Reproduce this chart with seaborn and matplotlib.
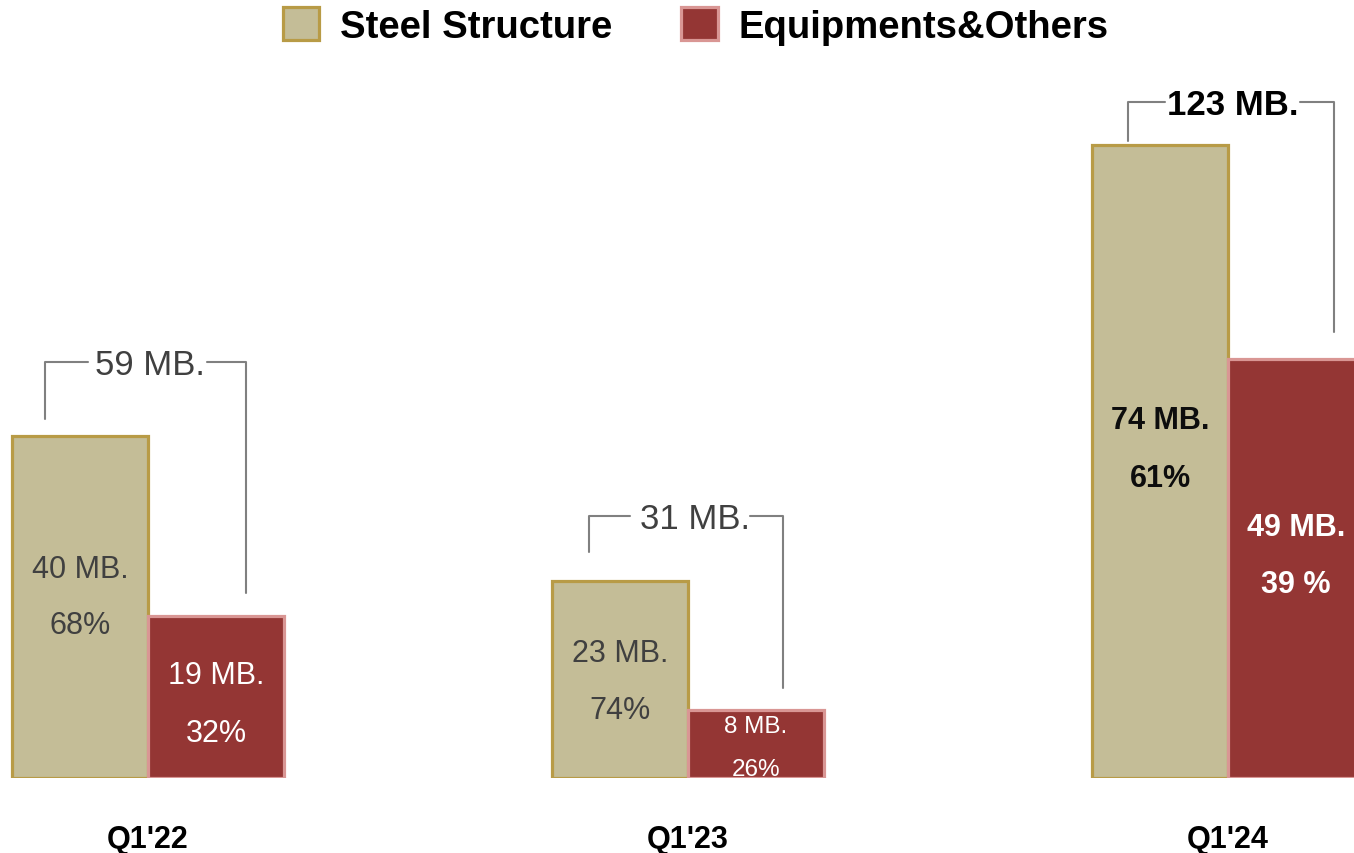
import pandas as pd
import seaborn as sns
import matplotlib.pyplot as plt
from matplotlib.patches import Patch

# chart data
quarters = ["Q1'22", "Q1'23", "Q1'24"]
steel = [40, 23, 74]
equip = [19, 8, 49]
totals = [59, 31, 123]
steel_pct = ['68%', '74%', '61%']
equip_pct = ['32%', '26%', '39 %']

# label placement (data units)
steel_lab_y = [(24.5, 17.9), (14.6, 7.9), (41.9, 35.1)]
equip_lab_y = [(12.0, 5.3), (6.1, 1.0), (29.4, 22.7)]
br_top = [48.7, 30.6, 79.1]
br_lbot = [42.0, 26.4, 74.5]
br_rbot = [21.6, 10.5, 52.2]
br_left = [-0.191, -0.183, -0.185]
br_right = [0.181, 0.176, 0.196]
gap_l = [-0.111, -0.107, -0.117]
gap_r = [0.109, 0.115, 0.133]
tot_x = [0.004, 0.013, 0.009]

steel_fill, steel_edge = '#c4bd97', '#b89b46'
equip_fill, equip_edge = '#943634', '#d99694'
line_col = '#808080'
dark = '#404040'

df = pd.DataFrame({
    'quarter': quarters * 2,
    'value': steel + equip,
    'segment': ['Steel Structure'] * 3 + ['Equipments&Others'] * 3,
})

sns.set_style('white')
plt.rcParams['font.family'] = ['Liberation Sans', 'DejaVu Sans']

fig = plt.figure(figsize=(13.54, 8.54), dpi=100)
ax = fig.add_axes([0, 75 / 854, 1, 779 / 854])

sns.barplot(data=df, x='quarter', y='value', hue='segment',
            palette=[steel_fill, equip_fill], saturation=1, width=0.504, gap=0,
            legend=False, ax=ax)

for cont, ec in zip(ax.containers, [steel_edge, equip_edge]):
    for bar in cont:
        bar.set_edgecolor(ec)
        bar.set_linewidth(2.3)

ax.set_xlim(-148 / 540, 1206 / 540)
ax.set_ylim(0, 779 / 8.55)
ax.set_xlabel('')
ax.set_ylabel('')
ax.set_yticks([])
ax.tick_params(axis='x', length=0, pad=33)
for lab in ax.get_xticklabels():
    lab.set_fontsize(22)
    lab.set_fontweight('bold')
    lab.set_color('black')
sns.despine(ax=ax, left=True, bottom=True)

bw = 0.504 / 4
for i in range(3):
    last = i == 2
    # labels inside bars
    s_col = '#0d0d0d' if last else dark
    wt = 'bold' if last else 'normal'
    fs_e = 17.5 if i == 1 else 22
    ax.text(i - bw, steel_lab_y[i][0], f'{steel[i]} MB.', ha='center', va='center',
            fontsize=22, color=s_col, fontweight=wt)
    ax.text(i - bw, steel_lab_y[i][1], steel_pct[i], ha='center', va='center',
            fontsize=22, color=s_col, fontweight=wt)
    ax.text(i + bw, equip_lab_y[i][0], f'{equip[i]} MB.', ha='center', va='center',
            fontsize=fs_e, color='white', fontweight=wt)
    ax.text(i + bw, equip_lab_y[i][1], equip_pct[i], ha='center', va='center',
            fontsize=fs_e, color='white', fontweight=wt)

    # total bracket
    ax.plot([i + br_left[i], i + br_left[i], i + gap_l[i]],
            [br_lbot[i], br_top[i], br_top[i]], color=line_col, lw=1.5)
    ax.plot([i + gap_r[i], i + br_right[i], i + br_right[i]],
            [br_top[i], br_top[i], br_rbot[i]], color=line_col, lw=1.5)
    ax.text(i + tot_x[i], br_top[i] - 0.3, f'{totals[i]} MB.', ha='center', va='center',
            fontsize=25, color='black' if last else dark,
            fontweight='bold' if last else 'normal')

handles = [Patch(facecolor=steel_fill, edgecolor=steel_edge, linewidth=2.3),
           Patch(facecolor=equip_fill, edgecolor=equip_edge, linewidth=2.3)]
leg = fig.legend(handles, ['Steel Structure', 'Equipments&Others'], loc='center',
                 bbox_to_anchor=(0.514, 1 - 27 / 854), ncol=2, frameon=False,
                 prop={'size': 27.5, 'weight': 'bold'}, handlelength=0.95,
                 handleheight=0.95, handletextpad=0.55, columnspacing=1.8)
for t in leg.get_texts():
    t.set_color('black')

fig.savefig('out.png', dpi=100)
